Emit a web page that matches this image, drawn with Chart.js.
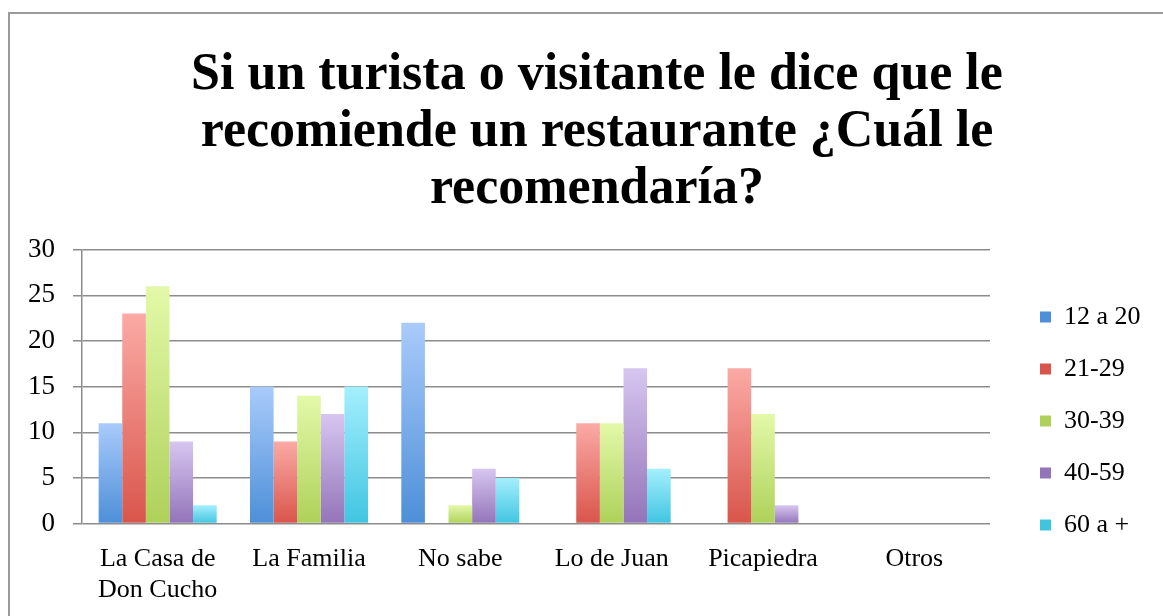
<!DOCTYPE html>
<html>
<head>
<meta charset="utf-8">
<script src="https://cdn.jsdelivr.net/npm/chart.js@4/dist/chart.umd.min.js"></script>
<style>
  html, body { margin: 0; padding: 0; background: #fff; overflow: hidden; }
  #frame {
    position: absolute; left: 8px; top: 12px;
    width: 1174px; height: 625px;
    border-left: 2px solid #9a9a9a; border-top: 2px solid #9a9a9a;
  }
  canvas { display: block; }
</style>
</head>
<body>
<div id="frame"><canvas id="chart" width="1174" height="625"></canvas></div>
<script>
// Categories and series
const restaurants = [['La Casa de', 'Don Cucho'], 'La Familia', 'No sabe', 'Lo de Juan', 'Picapiedra', 'Otros'];
const ageGroups = ['12 a 20', '21-29', '30-39', '40-59', '60 a +'];
const age12to20 = [11, 15, 22, 0, 0, 0];
const age21to29 = [23, 9, 0, 11, 17, 0];
const age30to39 = [26, 14, 2, 11, 12, 0];
const age40to59 = [9, 12, 6, 17, 2, 0];
const age60plus = [2, 15, 5, 6, 0, 0];
const yTicks = [0, 5, 10, 15, 20, 25, 30];

// top / bottom colours of each bar gradient
const palette = [
    ['#a9cbfb', '#4d8fd8'],
    ['#fbaaa5', '#d9554b'],
    ['#e3f9a9', '#aed159'],
    ['#d7c6f0', '#9374b9'],
    ['#a5effd', '#40c5e1']
];

function barGradient(top, bottom) {
    return function(context) {
        const chart = context.chart;
        if (context.type !== 'data' || !chart.chartArea) return bottom;
        const y = chart.scales.y;
        const y0 = y.getPixelForValue(0);
        const y1 = y.getPixelForValue(context.parsed.y);
        if (Math.abs(y0 - y1) < 1) return bottom;
        const g = chart.ctx.createLinearGradient(0, y1, 0, y0);
        g.addColorStop(0, top);
        g.addColorStop(1, bottom);
        return g;
    };
}

// legend column on the right: fixed width, items pushed a bit away from the plot
const LEGEND_WIDTH = 194;
const LEGEND_SHIFT = 24;
const wideLegend = {
    id: 'wideLegend',
    beforeLayout(chart) {
        const legend = chart.legend;
        if (!legend || legend._wide) return;
        const fit = legend.fit;
        legend.fit = function() {
            fit.call(this);
            this.width = LEGEND_WIDTH;
        };
        legend._wide = true;
    },
    afterLayout(chart) {
        if (chart.legend) chart.legend.left += LEGEND_SHIFT;
    }
};

const seriesValues = [age12to20, age21to29, age30to39, age40to59, age60plus];
const serif = "'Liberation Serif', serif";

const ctx = document.getElementById('chart').getContext('2d');
const chart = new Chart(ctx, {
    type: 'bar',
    data: {
        labels: restaurants,
        datasets: ageGroups.map((name, i) => ({
            label: name,
            data: seriesValues[i],
            backgroundColor: barGradient(palette[i][0], palette[i][1]),
            borderWidth: 0,
            categoryPercentage: 0.78,
            barPercentage: 1.0
        }))
    },
    options: {
        responsive: false,
        animation: false,
        layout: { padding: { left: 0, right: 0, top: 0, bottom: 13 } },
        scales: {
            x: {
                grid: { display: false, drawTicks: false },
                border: { display: false },
                ticks: { color: '#000', font: { family: serif, size: 26 }, padding: 20, maxRotation: 0 }
            },
            y: {
                min: 0,
                max: 30,
                afterBuildTicks: axis => { axis.ticks = yTicks.map(v => ({ value: v })); },
                grid: { color: '#8c8c8c', lineWidth: 1.5, tickLength: 9 },
                border: { color: '#8c8c8c', width: 1.5 },
                ticks: { color: '#000', font: { family: serif, size: 27 }, padding: 18 }
            }
        },
        plugins: {
            title: {
                display: true,
                text: ['Si un turista o visitante le dice que le', 'recomiende un restaurante ¿Cuál le', 'recomendaría?'],
                color: '#000',
                font: { family: serif, size: 52, weight: 'bold', lineHeight: 1.1 },
                padding: { top: 33, bottom: 31 }
            },
            legend: {
                position: 'right',
                title: { display: true, text: ' ', font: { size: 10 }, padding: { top: 190, bottom: 0 } },
                labels: {
                    color: '#000',
                    boxWidth: 11,
                    boxHeight: 11,
                    padding: 26,
                    font: { family: serif, size: 26 },
                    generateLabels: c => ageGroups.map((name, i) => ({
                        text: name,
                        fillStyle: palette[i][1],
                        strokeStyle: palette[i][1],
                        lineWidth: 0,
                        datasetIndex: i,
                        fontColor: '#000'
                    }))
                }
            },
            tooltip: { enabled: false }
        }
    },
    plugins: [wideLegend]
});
</script>
</body>
</html>
